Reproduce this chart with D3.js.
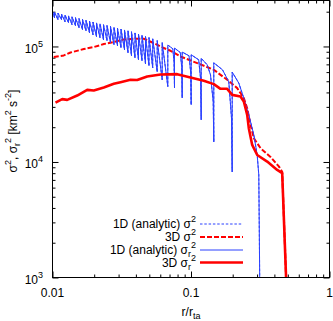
<!DOCTYPE html>
<html><head><meta charset="utf-8">
<script src="https://cdn.jsdelivr.net/npm/d3@7"></script>
<style>
body{margin:0;background:#fff}
svg{display:block}
text{font-family:"Liberation Sans",Arial,Helvetica,sans-serif;fill:#000}
</style>
</head><body>
<svg id="chart" width="333" height="321"></svg>
<script>
// ---------- data ----------
// 1D analytic sigma_r^2 (km^2 s^-2) vs r/r_ta
const r1D = [0.01,
 0.01034,0.01034, 0.010957,0.010957, 0.011616,0.011616, 0.012312,0.012312,
 0.013048,0.013048, 0.013830,0.013830, 0.014660,0.014660, 0.015540,0.015540,
 0.016470,0.016470, 0.017455,0.017455, 0.018503,0.018503, 0.019610,0.019610,
 0.020784,0.020784, 0.022030,0.022030, 0.023349,0.023349, 0.024746,0.024746,
 0.026230,0.026230, 0.027797,0.027797, 0.029463,0.029463, 0.031228,0.031228,
 0.033102,0.033102, 0.035086,0.035086, 0.037186,0.037186, 0.039412,0.039412,
 0.041775,0.041775, 0.044277,0.044277, 0.046931,0.046931, 0.049740,0.049740,
 0.052906,0.052906, 0.057016,0.057016, 0.061950,0.061950, 0.068002,0.068002,
 0.07389,0.07538, 0.076021,0.076021, 0.08370,0.08581, 0.086384,0.086384,
 0.09673,0.09950, 0.10033,0.10033, 0.11365,0.11750, 0.11848,0.11848,
 0.13092,0.13830,0.14463, 0.14608,0.14608, 0.16884,0.18750,0.19607,
 0.19835,0.19835, 0.22137,0.24058,0.26142,0.28407,0.30060,0.30868,0.31387];
const sigmaR2_1D = [2.00e5,
 1.773e5,1.979e5, 1.704e5,1.943e5, 1.704e5,1.909e5, 1.637e5,1.872e5,
 1.605e5,1.838e5, 1.542e5,1.805e5, 1.512e5,1.775e5, 1.452e5,1.745e5,
 1.396e5,1.714e5, 1.368e5,1.683e5, 1.315e5,1.655e5, 1.263e5,1.627e5,
 1.214e5,1.598e5, 1.190e5,1.570e5, 1.143e5,1.543e5, 1.121e5,1.518e5,
 1.077e5,1.491e5, 1.035e5,1.464e5, 1.014e5,1.439e5, 9.74e4,1.415e5,
 9.36e4,1.390e5, 8.82e4,1.365e5, 8.31e4,1.341e5, 7.98e4,1.309e5,
 7.67e4,1.281e5, 7.52e4,1.251e5, 7.08e4,1.222e5, 6.81e4,1.194e5,
 6.54e4,1.164e5, 6.04e4,1.124e5, 5.15e4,1.081e5, 4.50e4,1.030e5,
 9.55e4,7.37e4, 4.39e4,9.69e4, 8.86e4,6.54e4, 3.59e4,8.94e4,
 8.31e4,5.98e4, 3.13e4,8.47e4, 7.67e4,5.15e4, 2.32e4,7.89e4,
 6.94e4,5.68e4,3.32e4, 1.49e4,7.22e4, 6.28e4,4.94e4,2.41e4,
 8.21e3,6.00e4, 4.82e4,3.57e4,2.56e4,1.72e4,1.15e4,7.73e3,8.0e2];
// in 1D the total dispersion equals the radial one: the two curves coincide
const sigma2_1D = sigmaR2_1D.slice();

// 3D sigma^2
const r3Dtot = [0.010219,0.012070,0.013490,0.016830,0.019870,0.023466,0.027706,0.032718,
 0.038637,0.045624,0.053879,0.063622,0.071120,0.083975,0.11085,0.14608,0.18258,0.21555,
 0.24058,0.25456,0.26891,0.28407,0.31755,0.37499,0.43050,0.45552,0.48927];
const sigma2_3D = [8.09e4,8.36e4,8.87e4,9.49e4,9.88e4,1.049e5,1.092e5,1.150e5,
 1.166e5,1.166e5,1.070e5,9.69e4,9.18e4,8.19e4,7.18e4,6.28e4,5.15e4,4.36e4,
 3.57e4,2.92e4,2.10e4,1.608e4,1.317e4,1.107e4,9.16e3,8.21e3,8.0e2];

// 3D sigma_r^2
const r3Drad = [0.010511,0.011750,0.012768,0.015077,0.017805,0.019870,0.023466,0.027706,
 0.030971,0.036574,0.040881,0.048276,0.060230,0.079498,0.099172,0.12371,0.14608,0.16331,
 0.18258,0.19835,0.22777,0.24058,0.25456,0.26142,0.27663,0.30060,0.35495,0.41920,0.45552,0.48927];
const sigmaR2_3D = [3.27e4,3.50e4,3.45e4,3.76e4,4.21e4,4.16e4,4.41e4,4.75e4,
 4.91e4,5.15e4,5.12e4,5.50e4,5.72e4,5.76e4,5.39e4,5.04e4,4.72e4,4.30e4,
 4.30e4,3.81e4,3.69e4,3.34e4,2.56e4,1.963e4,1.406e4,1.15e4,1.008e4,8.54e3,8.0e3,8.0e2];

const xTickValues = [0.01, 0.1, 1];
const xTickLabels = ["0.01", "0.1", "1"];
const yTickValues = [1e3, 1e4, 1e5];
const yTickExps = ["3", "4", "5"];
const xMinor = [0.02,0.03,0.04,0.05,0.06,0.07,0.08,0.09,0.2,0.3,0.4,0.5,0.6,0.7,0.8,0.9];
const yMinor = [2e3,3e3,4e3,5e3,6e3,7e3,8e3,9e3,2e4,3e4,4e4,5e4,6e4,7e4,8e4,9e4,2e5];

// ---------- layout ----------
const L = 52.5, R = 329.5, T = 0.5, B = 277.5;
const svg = d3.select("#chart");
const x = d3.scaleLog().domain([0.01, 1]).range([L, R]);
const y = d3.scaleLog().domain([1e3, 2.5e5]).range([B, T]);

svg.append("defs").append("clipPath").attr("id","clip")
  .append("rect").attr("x",L).attr("y",T).attr("width",R-L).attr("height",B-T);

// ticks (inward, mirrored)
function tickAxis(gen, tf, vals, size){
  svg.append("g").attr("transform", tf)
    .call(gen.tickValues(vals).tickSizeInner(size).tickSizeOuter(0).tickFormat(""))
    .call(g => { g.select(".domain").remove(); g.selectAll("line").attr("stroke","#000").attr("stroke-width",1); });
}
tickAxis(d3.axisBottom(x), `translate(0,${B})`, xTickValues, -6);
tickAxis(d3.axisBottom(x), `translate(0,${B})`, xMinor, -3);
tickAxis(d3.axisTop(x), `translate(0,${T})`, xTickValues, -6);
tickAxis(d3.axisTop(x), `translate(0,${T})`, xMinor, -3);
tickAxis(d3.axisLeft(y), `translate(${L},0)`, yTickValues, -6);
tickAxis(d3.axisLeft(y), `translate(${L},0)`, yMinor, -3);
tickAxis(d3.axisRight(y), `translate(${R},0)`, yTickValues, -6);
tickAxis(d3.axisRight(y), `translate(${R},0)`, yMinor, -3);

// series
const blue = "#2a40ff";
const line = d3.line().x(d => x(d[0])).y(d => y(d[1]));
const plotG = svg.append("g").attr("clip-path","url(#clip)");
const series = [
  {r: r1D, v: sigma2_1D, color: blue, w: 1, dash: "2.5,1.8"},
  {r: r3Dtot, v: sigma2_3D, color: "#ff0000", w: 2, dash: "5,2"},
  {r: r1D, v: sigmaR2_1D, color: blue, w: 1, dash: null},
  {r: r3Drad, v: sigmaR2_3D, color: "#ff0000", w: 2.6, dash: null}
];
series.forEach(s => {
  plotG.append("path").datum(s.r.map((r,i) => [r, s.v[i]]))
    .attr("d", line).attr("fill","none").attr("stroke", s.color)
    .attr("stroke-width", s.w).attr("stroke-linejoin","round")
    .attr("stroke-dasharray", s.dash);
});

// frame
svg.append("rect").attr("x",L).attr("y",T).attr("width",R-L).attr("height",B-T)
  .attr("fill","none").attr("stroke","#000").attr("stroke-width",1);

// rich text helper
function rich(sel, parts, main, small){
  let cur = 0;
  parts.forEach(p => {
    const target = p.s === "sup" ? -6 : p.s === "sub" ? 3 : 0;
    sel.append("tspan").attr("dy", target - cur)
      .attr("font-size", p.s ? small : main).text(p.t);
    cur = target;
  });
}

// x tick labels
xTickValues.forEach((v,i) => {
  svg.append("text").attr("x", x(v)).attr("y", 296.5).attr("text-anchor","middle")
    .attr("font-size",12).text(xTickLabels[i]);
});
// y tick labels
yTickValues.forEach((v,i) => {
  const t = svg.append("text").attr("x", 43).attr("y", y(v)+6.5).attr("text-anchor","end");
  rich(t, [{t:"10"},{t:yTickExps[i], s:"sup"}], 12, 9);
});
// x label
const xl = svg.append("text").attr("x", 191).attr("y", 316).attr("text-anchor","middle");
rich(xl, [{t:"r/r"},{t:"ta", s:"sub"}], 12, 9);
// y label
const yl = svg.append("text").attr("transform","translate(17,131) rotate(-90)").attr("text-anchor","middle");
rich(yl, [{t:"σ"},{t:"2",s:"sup"},{t:", σ"},{t:"r",s:"sub"},{t:"2",s:"sup"},{t:" [km"},{t:"2",s:"sup"},{t:" s"},{t:"-2",s:"sup"},{t:"]"}], 12, 9);

// legend
const legendLabels = [
  [{t:"1D (analytic) σ"},{t:"2",s:"sup"}],
  [{t:"3D σ"},{t:"2",s:"sup"}],
  [{t:"1D (analytic) σ"},{t:"r",s:"sub"},{t:"2",s:"sup"}],
  [{t:"3D σ"},{t:"r",s:"sub"},{t:"2",s:"sup"}]
];
const legendBase = [228.2, 241, 253.7, 266.5];
const legendLineY = [224, 237, 250, 262.5];
legendLabels.forEach((parts,i) => {
  const t = svg.append("text").attr("x",196).attr("y",legendBase[i]).attr("text-anchor","end");
  rich(t, parts, 12, 9);
  const s = series[i];
  svg.append("line").attr("x1",200).attr("x2",243).attr("y1",legendLineY[i]).attr("y2",legendLineY[i])
    .attr("stroke", s.color).attr("stroke-width", s.w).attr("stroke-dasharray", s.dash);
});
</script>
</body></html>
